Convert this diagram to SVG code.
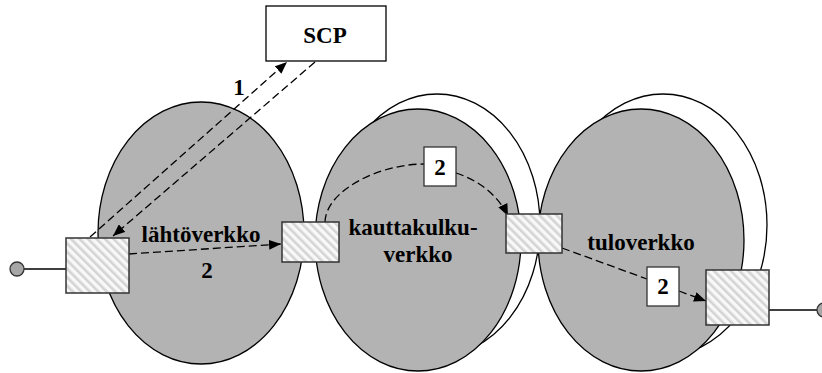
<svg xmlns="http://www.w3.org/2000/svg" width="822" height="373" viewBox="0 0 822 373">
<defs>
<pattern id="hatch" patternUnits="userSpaceOnUse" width="6" height="6" patternTransform="rotate(-45)">
<rect width="6" height="6" fill="#f8f8f8"/>
<rect width="2.6" height="6" fill="#d4d4d4"/>
</pattern>
<marker id="arr" viewBox="0 0 12 10" refX="12" refY="5" markerWidth="12" markerHeight="10" markerUnits="userSpaceOnUse" orient="auto">
<path d="M0,0 L12,5 L0,10 Z" fill="#000"/>
</marker>
<style>
.net{fill:#b3b3b3;stroke:#000;stroke-width:1.3}
.back{fill:#fff;stroke:#000;stroke-width:1.3}
.sw{fill:url(#hatch);stroke:#333;stroke-width:1.5}
.nb{fill:#fff;stroke:#333;stroke-width:1.3}
.t{font-family:'Liberation Serif','Times New Roman','DejaVu Serif',serif;font-weight:bold;font-size:23px;fill:#000;text-anchor:middle}
.d{fill:none;stroke:#000;stroke-width:1.3;stroke-dasharray:8 4}
.ln{fill:none;stroke:#000;stroke-width:1.3}
.term{fill:#a6a6a6;stroke:#333;stroke-width:1.3}
</style>
</defs>
<g id="net-left">
<ellipse class="net" cx="201" cy="233" rx="103" ry="131"/>
<text class="t" x="201" y="242" font-family="Liberation Serif, serif">lähtöverkko</text>
</g>
<g id="net-middle">
<ellipse class="back" cx="437" cy="225" rx="103" ry="131"/>
<ellipse class="net" cx="418" cy="240" rx="103" ry="131"/>
<text class="t" x="413" y="235" font-family="Liberation Serif, serif">kauttakulku-</text>
<text class="t" x="418" y="262" font-family="Liberation Serif, serif">verkko</text>
</g>
<g id="net-right">
<ellipse class="back" cx="663" cy="225" rx="104" ry="131"/>
<ellipse class="net" cx="641" cy="240" rx="103" ry="131"/>
<text class="t" x="641" y="250" font-family="Liberation Serif, serif">tuloverkko</text>
</g>
<g id="scp">
<rect x="266" y="6" width="120" height="55" fill="#fff" stroke="#000" stroke-width="1.3"/>
<text class="t" x="325" y="43" font-family="Liberation Serif, serif">SCP</text>
</g>
<g id="connectors">
<line class="ln" x1="24" y1="269" x2="66" y2="269"/>
<line class="ln" x1="769" y1="310" x2="817" y2="310"/>
<line class="d" x1="90" y1="237" x2="287" y2="62" marker-end="url(#arr)"/>
<line class="d" x1="315" y1="62" x2="113" y2="236" marker-end="url(#arr)"/>
<line class="d" x1="129" y1="254" x2="281" y2="244" marker-end="url(#arr)"/>
<path class="d" d="M325,222 C326,190 380,164 424,164"/>
<path class="d" d="M456,173 C478,180 498,195 508,216" marker-end="url(#arr)"/>
<line class="d" x1="562" y1="248" x2="647" y2="279"/>
<line class="d" x1="679" y1="291" x2="706" y2="301" marker-end="url(#arr)"/>
</g>
<g id="term-left">
<circle class="term" cx="17" cy="269" r="7"/>
</g>
<g id="term-right">
<circle class="term" cx="824" cy="310" r="7"/>
</g>
<g id="switch-a">
<rect class="sw" x="66" y="238" width="63" height="55"/>
</g>
<g id="switch-b">
<rect class="sw" x="282" y="222" width="57" height="40"/>
</g>
<g id="switch-c">
<rect class="sw" x="506" y="214" width="56" height="39"/>
</g>
<g id="switch-d">
<rect class="sw" x="706" y="270" width="63" height="55"/>
</g>
<g id="label-1">
<text class="t" x="239" y="95" font-family="Liberation Serif, serif">1</text>
</g>
<g id="label-2a">
<text class="t" x="207" y="278" font-family="Liberation Serif, serif">2</text>
</g>
<g id="label-2b">
<rect class="nb" x="424" y="147" width="32" height="39"/>
<text class="t" x="440" y="175" font-family="Liberation Serif, serif">2</text>
</g>
<g id="label-2c">
<rect class="nb" x="647" y="267" width="32" height="39"/>
<text class="t" x="663" y="294" font-family="Liberation Serif, serif">2</text>
</g>
</svg>
